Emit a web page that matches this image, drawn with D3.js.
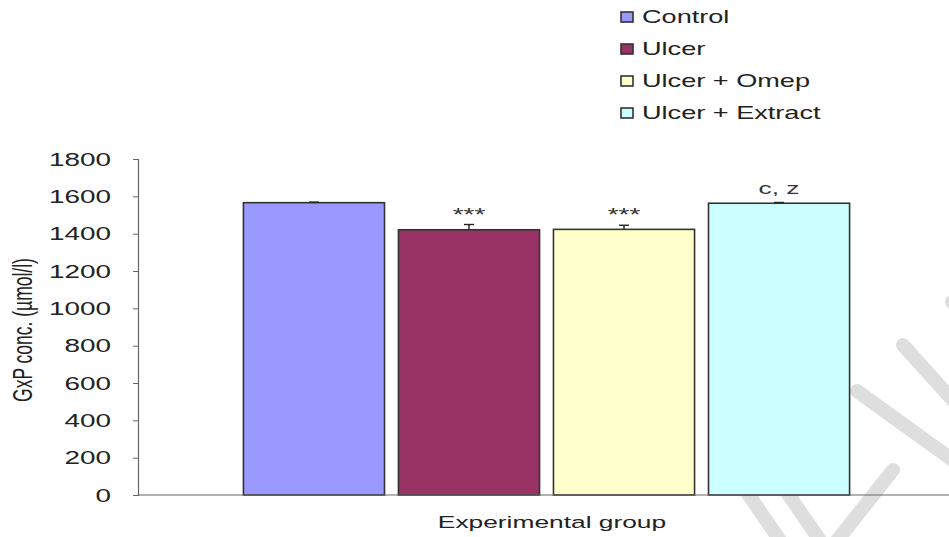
<!DOCTYPE html>
<html>
<head>
<meta charset="utf-8">
<script src="https://cdn.jsdelivr.net/npm/d3@7/dist/d3.min.js"></script>
<style>
  html, body { margin: 0; padding: 0; background: #fff; }
  svg { display: block; }
</style>
</head>
<body>
<svg id="chart" width="949" height="537"></svg>
<script>
// GxP concentration by experimental group
const groups = ["Control", "Ulcer", "Ulcer + Omep", "Ulcer + Extract"];
const values = [1566, 1421, 1423, 1563];
const errors = [3, 28, 22, 4];
const marks = ["", "***", "***", "c, z"];
const colors = ["#9999FF", "#993366", "#FFFFCC", "#CCFFFF"];
const yTicks = [0, 200, 400, 600, 800, 1000, 1200, 1400, 1600, 1800];

const svg = d3.select("#chart");
const font = "'Liberation Sans', Arial, sans-serif";
const sx = 1.55; // wide type used throughout the figure

// faint diagonal watermark strokes, drawn beneath the bars
const wm = svg.append("g").attr("stroke", "#dedede").attr("stroke-width", 14)
  .attr("stroke-linecap", "round").attr("fill", "none");
[[[952, 302], [1000, 360]], [[903, 345], [975, 425]],
 [[857, 391], [990, 487]], [[893, 470], [828, 552]],
 [[735, 475], [790, 555]], [[775, 475], [830, 555]]]
  .forEach(p => wm.append("path").attr("d", d3.line()(p)));

const y = d3.scaleLinear().domain([0, 1800]).range([495, 159]);
const x = d3.scaleBand().domain(groups).range([138, 955])
  .paddingInner(0.09).paddingOuter(0.68);

// bars
svg.append("g").selectAll("rect").data(groups).join("rect")
  .attr("x", d => x(d))
  .attr("y", (d, i) => y(values[i]))
  .attr("width", x.bandwidth())
  .attr("height", (d, i) => y(0) - y(values[i]))
  .attr("fill", (d, i) => colors[i])
  .attr("stroke", "#333")
  .attr("stroke-width", 1.6);

// error bars (upper only)
const eb = svg.append("g").attr("stroke", "#222").attr("stroke-width", 1.4);
groups.forEach((g, i) => {
  const cx = x(g) + x.bandwidth() / 2;
  eb.append("line").attr("x1", cx).attr("x2", cx)
    .attr("y1", y(values[i])).attr("y2", y(values[i] + errors[i]));
  eb.append("line").attr("x1", cx - 5).attr("x2", cx + 5)
    .attr("y1", y(values[i] + errors[i])).attr("y2", y(values[i] + errors[i]));
});

// significance labels
svg.append("g").selectAll("text").data(groups).join("text")
  .attr("transform", (d, i) => {
    const cx = x(d) + x.bandwidth() / 2;
    const ty = y(values[i] + errors[i]) - (marks[i] === "c, z" ? 8 : 4);
    return `translate(${cx},${ty}) scale(${sx},1)`;
  })
  .attr("text-anchor", "middle")
  .attr("font-family", font)
  .attr("font-size", (d, i) => marks[i] === "c, z" ? 17 : 18)
  .attr("fill", "#333")
  .text((d, i) => marks[i]);

// y axis line and ticks
const yAxis = svg.append("g").attr("transform", "translate(138,0)")
  .call(d3.axisLeft(y).tickValues(yTicks).tickSize(5).tickFormat(""));
yAxis.select(".domain").attr("stroke", "#666").attr("stroke-width", 1.2);
yAxis.selectAll(".tick line").attr("stroke", "#666");

// y tick labels
svg.append("g").selectAll("text").data(yTicks).join("text")
  .attr("transform", d => `translate(111,${y(d) + 6.5}) scale(${sx},1)`)
  .attr("text-anchor", "end")
  .attr("font-family", font).attr("font-size", 18).attr("fill", "#222")
  .text(d => d3.format("d")(d));

// x axis baseline
svg.append("line").attr("x1", 138).attr("x2", 949)
  .attr("y1", y(0)).attr("y2", y(0))
  .attr("stroke", "#666").attr("stroke-width", 1.2);

// axis titles
svg.append("text")
  .attr("transform", "translate(32,330) rotate(-90) scale(1,1.55)")
  .attr("text-anchor", "middle")
  .attr("font-family", font)
  .attr("font-size", 17.5).attr("fill", "#222")
  .text("GxP conc. (µmol/l)");

svg.append("text")
  .attr("transform", `translate(552,528) scale(${sx},1)`)
  .attr("text-anchor", "middle")
  .attr("font-family", font).attr("font-size", 17).attr("fill", "#222")
  .text("Experimental group");

// legend
const lg = svg.append("g").attr("transform", "translate(621,17)");
const row = lg.selectAll("g").data(groups).join("g")
  .attr("transform", (d, i) => `translate(0,${i * 32})`);
row.append("rect").attr("x", 0).attr("y", -5).attr("width", 12).attr("height", 10)
  .attr("fill", (d, i) => colors[i]).attr("stroke", "#333").attr("stroke-width", 1.6);
row.append("text")
  .attr("transform", `translate(21,6) scale(${sx},1)`)
  .attr("font-family", font).attr("font-size", 17.5).attr("fill", "#222")
  .text(d => d);
</script>
</body>
</html>
